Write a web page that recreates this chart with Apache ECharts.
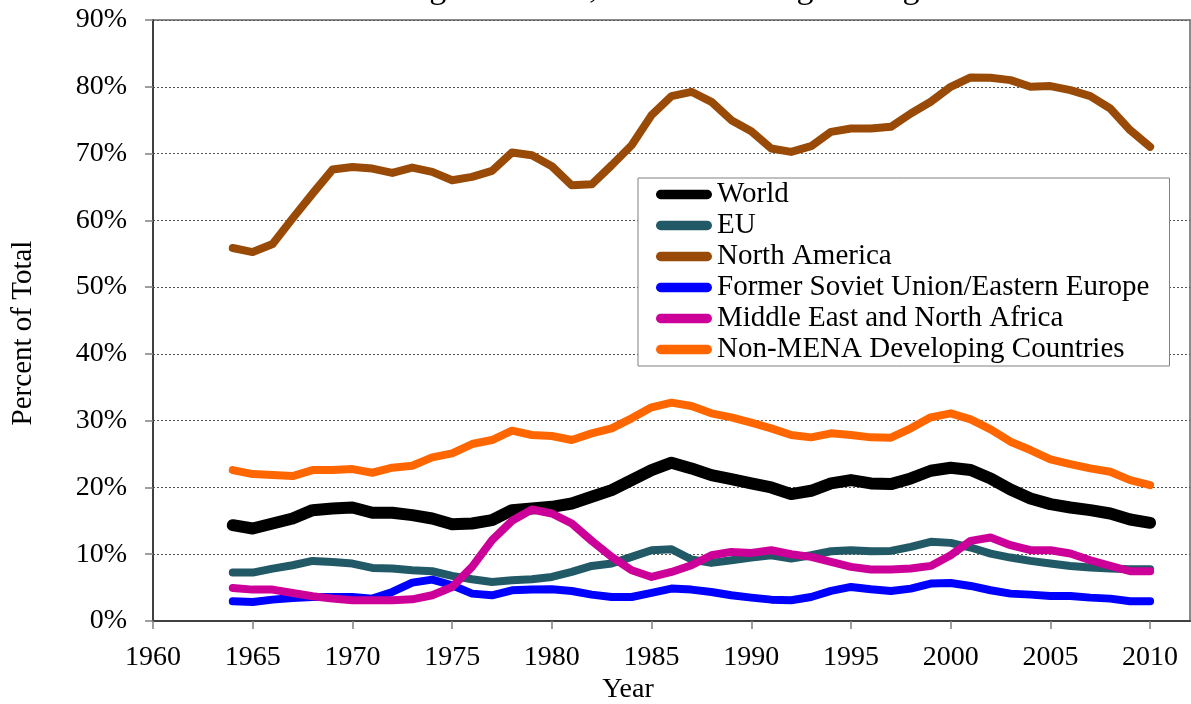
<!DOCTYPE html>
<html>
<head>
<meta charset="utf-8">
<title>Percentages of Total, 3-Year Moving Averages</title>
<script src="https://cdn.jsdelivr.net/npm/echarts@6.0.0/dist/echarts.min.js"></script>
<style>
	html, body { margin: 0; padding: 0; background: #fff; }
	#chart_main { width: 1191px; height: 704px; }
</style>
</head>
<body>
<div id="chart_main"></div>
<script>
// years 1964 - 2010
var years = [];
for (var y = 1964; y <= 2010; y++) {
	years.push(y);
}
var xTicks = [1960, 1965, 1970, 1975, 1980, 1985, 1990, 1995, 2000, 2005, 2010];

//3年移动平均，占比(%)
var worldData = [14.35, 13.85, 14.6, 15.35, 16.6, 16.85, 17.0, 16.2, 16.2, 15.85,
	15.35, 14.5, 14.6, 15.1, 16.6, 16.85, 17.1, 17.6, 18.6, 19.6,
	21.1, 22.6, 23.7, 22.85, 21.85, 21.25, 20.6, 20.0, 19.0, 19.5,
	20.6, 21.1, 20.6, 20.5, 21.35, 22.5, 22.95, 22.6, 21.35, 19.7,
	18.35, 17.5, 17.0, 16.6, 16.1, 15.2, 14.7];
var euData = [7.25, 7.25, 7.85, 8.35, 9.0, 8.85, 8.6, 7.95, 7.85, 7.6,
	7.45, 6.75, 6.25, 5.85, 6.1, 6.25, 6.6, 7.35, 8.25, 8.6,
	9.6, 10.6, 10.75, 9.2, 8.7, 9.1, 9.5, 9.85, 9.35, 9.85,
	10.45, 10.6, 10.45, 10.5, 11.1, 11.85, 11.7, 11.0, 10.1, 9.5,
	9.0, 8.6, 8.25, 8.0, 7.85, 7.75, 7.75];
var naData = [55.85, 55.25, 56.45, 60.3, 64.0, 67.6, 68.0, 67.75, 67.1, 67.9,
	67.25, 66.0, 66.5, 67.4, 70.15, 69.75, 68.1, 65.25, 65.4, 68.25,
	71.25, 75.75, 78.6, 79.25, 77.75, 75.0, 73.35, 70.75, 70.25, 71.1,
	73.25, 73.75, 73.75, 74.0, 76.0, 77.75, 80.0, 81.4, 81.35, 81.0,
	80.0, 80.1, 79.5, 78.6, 76.75, 73.5, 71.0];
var fsuData = [2.95, 2.85, 3.2, 3.45, 3.6, 3.6, 3.6, 3.35, 4.35, 5.75,
	6.2, 5.35, 4.1, 3.85, 4.6, 4.7, 4.75, 4.5, 3.95, 3.6,
	3.6, 4.2, 4.85, 4.7, 4.35, 3.85, 3.5, 3.2, 3.1, 3.6,
	4.5, 5.1, 4.75, 4.5, 4.85, 5.6, 5.7, 5.25, 4.6, 4.1,
	3.95, 3.75, 3.75, 3.5, 3.35, 2.95, 2.95];
var menaData = [4.95, 4.7, 4.7, 4.2, 3.7, 3.35, 3.1, 3.1, 3.1, 3.25,
	3.85, 5.1, 8.1, 12.1, 15.0, 16.7, 16.1, 14.6, 12.0, 9.6,
	7.6, 6.6, 7.35, 8.35, 9.85, 10.35, 10.2, 10.6, 10.0, 9.6,
	8.85, 8.1, 7.7, 7.7, 7.85, 8.25, 9.85, 12.0, 12.5, 11.35,
	10.6, 10.6, 10.1, 9.1, 8.25, 7.45, 7.45];
var nonMenaData = [22.6, 22.0, 21.85, 21.7, 22.6, 22.6, 22.75, 22.2, 22.95, 23.25,
	24.5, 25.1, 26.5, 27.1, 28.5, 27.85, 27.7, 27.1, 28.1, 28.85,
	30.35, 32.0, 32.7, 32.2, 31.1, 30.5, 29.7, 28.85, 27.85, 27.5,
	28.1, 27.85, 27.5, 27.45, 28.85, 30.5, 31.1, 30.2, 28.7, 26.85,
	25.6, 24.2, 23.5, 22.85, 22.35, 21.1, 20.35];

var seriesNames = ['World', 'EU', 'North America', 'Former Soviet Union/Eastern Europe',
	'Middle East and North Africa', 'Non-MENA Developing Countries'];
var seriesColors = ['#000000', '#215A66', '#994A06', '#0000FF', '#CC0099', '#FF6600'];
var seriesValues = [worldData, euData, naData, fsuData, menaData, nonMenaData];

var FONT = 'Liberation Serif';
var pillIcon = 'path://M5,0H55A5,5,0,0,1,55,10H5A5,5,0,0,1,5,0Z';

function pairs(vals) {
	var out = [];
	for (var i = 0; i < vals.length; i++) {
		out.push([years[i], vals[i]]);
	}
	return out;
}

var chart = echarts.init(document.getElementById('chart_main'), null, { renderer: 'canvas' });

var series = [];
var legendData = [];
for (var i = 0; i < seriesNames.length; i++) {
	series.push({
		name: seriesNames[i],
		type: 'line',
		data: pairs(seriesValues[i]),
		showSymbol: false,
		symbol: 'none',
		smooth: false,
		color: seriesColors[i],
		lineStyle: {
			width: i == 0 ? 12 : 8,
			color: seriesColors[i],
			cap: 'round',
			join: 'round'
		},
		emphasis: { disabled: true }
	});
	legendData.push({ name: seriesNames[i], icon: pillIcon });
}

var option = {
	animation: false,
	backgroundColor: '#fff',
	grid: {
		left: 153,
		right: 1,
		top: 20,
		bottom: 83,
		show: true,
		borderColor: '#8c8c8c',
		borderWidth: 2
	},
	legend: {
		orient: 'vertical',
		left: 638,
		top: 178,
		padding: [2, 20, 2, 18],
		itemGap: 2,
		itemWidth: 56,
		itemHeight: 10,
		backgroundColor: '#fff',
		borderColor: '#808080',
		borderWidth: 1,
		itemStyle: { borderWidth: 0 },
		textStyle: { fontFamily: FONT, fontSize: 29, color: '#000', padding: 0 },
		data: legendData
	},
	xAxis: {
		type: 'value',
		min: 1960,
		max: 2012,
		interval: 5,
		axisLine: { show: true, lineStyle: { color: '#404040', width: 2 } },
		axisTick: { show: true, length: 8, customValues: xTicks, lineStyle: { color: '#808080', width: 1.5 } },
		axisLabel: {
			customValues: xTicks,
			formatter: function (v) { return String(v); },
			margin: 23,
			fontFamily: FONT,
			fontSize: 28,
			color: '#000'
		},
		splitLine: { show: false }
	},
	yAxis: {
		type: 'value',
		min: 0,
		max: 90,
		interval: 10,
		axisLine: { show: true, lineStyle: { color: '#404040', width: 2 } },
		axisTick: { show: true, length: 8, lineStyle: { color: '#808080', width: 1.5 } },
		axisLabel: {
			formatter: '{value}%',
			margin: 26,
			fontFamily: FONT,
			fontSize: 28,
			color: '#000'
		},
		splitLine: { show: true, lineStyle: { color: '#555', width: 1, type: [2, 2] } }
	},
	graphic: [
		{
			type: 'text',
			x: 630,
			y: -11,
			style: {
				text: 'Percentages of Total, 3-Year Moving Averages',
				font: '34px "' + FONT + '"',
				fill: '#000',
				align: 'center',
				verticalAlign: 'middle'
			}
		},
		{
			type: 'text',
			x: 23,
			y: 333,
			rotation: Math.PI / 2,
			style: {
				text: 'Percent of Total',
				font: '29px "' + FONT + '"',
				fill: '#000',
				align: 'center',
				verticalAlign: 'middle'
			}
		},
		{
			type: 'text',
			x: 628,
			y: 690,
			style: {
				text: 'Year',
				font: '28px "' + FONT + '"',
				fill: '#000',
				align: 'center',
				verticalAlign: 'middle'
			}
		}
	],
	series: series
};

chart.setOption(option);
</script>
</body>
</html>
